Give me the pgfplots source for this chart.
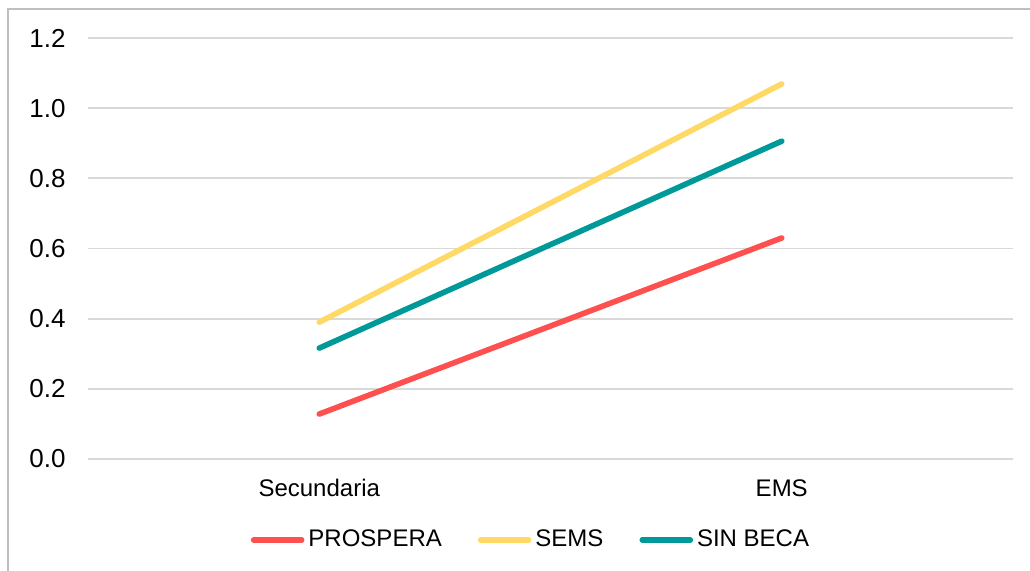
\documentclass[border=0pt]{standalone}
\usepackage{pgfplots}
\pgfplotsset{compat=1.18}
\usepackage{fontspec}
\setmainfont{Liberation Sans}
\definecolor{cpro}{HTML}{FF5050}
\definecolor{csems}{HTML}{FFD966}
\definecolor{csin}{HTML}{009999}
\definecolor{gridc}{HTML}{D9D9D9}
\definecolor{framec}{HTML}{BFBFBF}
\begin{document}
\fontsize{12pt}{14pt}\selectfont
\begin{tikzpicture}
\useasboundingbox (0,0) rectangle (515pt,285.5pt);
\draw[framec, line width=0.6pt] (4pt,0) -- (4pt,281pt) -- (515pt,281pt);
\begin{axis}[
  at={(44pt,56pt)}, anchor=south west,
  scale only axis, width=462.5pt, height=210.5pt,
  xmin=-0.5, xmax=1.5, ymin=0, ymax=1.2,
  xtick={0,1}, xticklabels={Secundaria,EMS},
  ytick={0,0.2,...,1.2},
  y tick label style={/pgf/number format/fixed, /pgf/number format/fixed zerofill, /pgf/number format/precision=1},
  /pgf/number format/assume math mode=true,
  yticklabel style={xshift=-7pt, font=\fontsize{13pt}{15pt}\selectfont},
  xticklabel style={yshift=-6pt, font=\fontsize{12pt}{14pt}\selectfont},
  axis line style={draw=none},
  major tick length=0pt,
  xmajorgrids=false, ymajorgrids=true, grid style={draw=gridc, line width=0.9pt},
  tick label style={text=black},
  legend columns=3,
  legend style={at={(0.48,-0.192)}, anchor=center, draw=none, fill=none,
    font=\fontsize{12pt}{14pt}\selectfont,
    /tikz/every even column/.append style={column sep=16pt}},
  legend image code/.code={\draw[#1, line cap=round] (0pt,0pt) -- (24pt,0pt);},
  every axis plot/.append style={line width=2.8pt, line cap=round},
]
\addplot[cpro] coordinates {(0,0.128) (1,0.630)};
\addlegendentry{PROSPERA}
\addplot[csems] coordinates {(0,0.390) (1,1.069)};
\addlegendentry{SEMS}
\addplot[csin] coordinates {(0,0.316) (1,0.906)};
\addlegendentry{SIN BECA}
\end{axis}
\end{tikzpicture}
\end{document}
